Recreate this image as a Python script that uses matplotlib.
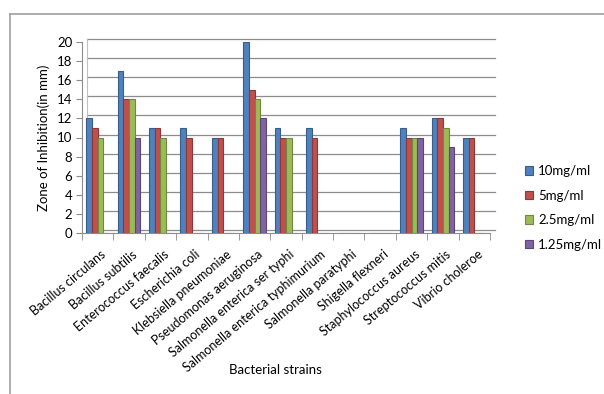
import numpy as np
import matplotlib
matplotlib.use("Agg")
import matplotlib.pyplot as plt
import matplotlib.transforms as mtransforms
from matplotlib.lines import Line2D

plt.rcParams['font.family'] = ['Lato', 'DejaVu Sans']

# Data
strains = ["Bacillus circulans", "Bacillus subtilis", "Enterococcus faecalis",
           "Escherichia coli", "Klebsiella pneumoniae", "Pseudomonas aeruginosa",
           "Salmonella enterica ser typhi", "Salmonella enterica typhimurium",
           "Salmonella paratyphi", "Shigella flexneri", "Staphylococcus aureus",
           "Streptococcus mitis", "Vibrio choleroe"]
conc_10 = [12, 17, 11, 11, 10, 20, 11, 11, 0, 0, 11, 12, 10]
conc_5 = [11, 14, 11, 10, 10, 15, 10, 10, 0, 0, 10, 12, 10]
conc_2_5 = [10, 14, 10, 0, 0, 14, 10, 0, 0, 0, 10, 11, 0]
conc_1_25 = [0, 10, 0, 0, 0, 12, 0, 0, 0, 0, 10, 9, 0]
series_labels = ["10mg/ml", "5mg/ml", "2.5mg/ml", "1.25mg/ml"]

series = [conc_10, conc_5, conc_2_5, conc_1_25]
colors = ["#4F81BD", "#C0504D", "#9BBB59", "#8064A2"]
edges = ["#385D8A", "#8C3836", "#71893F", "#5C4776"]

fig = plt.figure(figsize=(6.04, 3.94), dpi=100)
ax = fig.add_axes([82 / 604, 1 - 233 / 394, 408 / 604, 191 / 394])

x = np.arange(len(strains))
width = 1 / 5.5
for i, (vals, c, e, lab) in enumerate(zip(series, colors, edges, series_labels)):
    ax.bar(x - 1.5 * width + i * width, vals, width, color=c, edgecolor=e,
           linewidth=0.8, label=lab, zorder=3)

ax.set_xlim(-0.5, len(strains) - 0.5)
ax.set_ylim(0, 20)

# back wall gridlines, shifted to give the chart some depth
shift = mtransforms.ScaledTranslation(5 / 100, 3 / 100, fig.dpi_scale_trans)
for yv in range(0, 21, 2):
    ax.plot([-0.5, len(strains) - 0.5], [yv, yv], color="#8c8c8c", lw=0.9,
            transform=ax.transData + shift, clip_on=False, zorder=1)
ax.plot([-0.5, -0.5], [0, 20], color="#bfbfbf", lw=0.8,
        transform=ax.transData + shift, clip_on=False, zorder=1)

for s in ["top", "right"]:
    ax.spines[s].set_visible(False)
ax.spines["left"].set_color("#8c8c8c")
ax.spines["bottom"].set_color("#8c8c8c")

ax.set_yticks(range(0, 21, 2))
ax.tick_params(axis="y", length=4, color="#8c8c8c", labelsize=9.5, pad=3)
ax.set_xticks(x + 0.08)
ax.set_xticklabels(strains, rotation=40, ha="right", va="top",
                   rotation_mode="anchor", fontsize=9)
ax.tick_params(axis="x", length=0, pad=11)
ax.set_xticks(np.arange(-0.5, len(strains)), minor=True)
ax.tick_params(axis="x", which="minor", length=5, color="#8c8c8c")

ax.set_ylabel("Zone of Inhibition(in mm)", fontsize=9.5, labelpad=5)
fig.text(275 / 604, 1 - 370 / 394, "Bacterial strains", ha="center",
         va="center", fontsize=9.5)

leg = ax.legend(loc="center left", bbox_to_anchor=(513 / 604, 1 - 208 / 394),
                bbox_transform=fig.transFigure, frameon=False, fontsize=9.5,
                handlelength=0.6, handleheight=0.6, handletextpad=0.4,
                labelspacing=0.95)

# outer frame of the chart area
fig.add_artist(Line2D([10 / 604, 1], [1 - 14 / 394, 1 - 14 / 394],
                      color="#a0a0a0", lw=1.2))
fig.add_artist(Line2D([10 / 604, 10 / 604], [0, 1 - 14 / 394],
                      color="#a0a0a0", lw=1.2))

fig.savefig("out.png", dpi=100)
